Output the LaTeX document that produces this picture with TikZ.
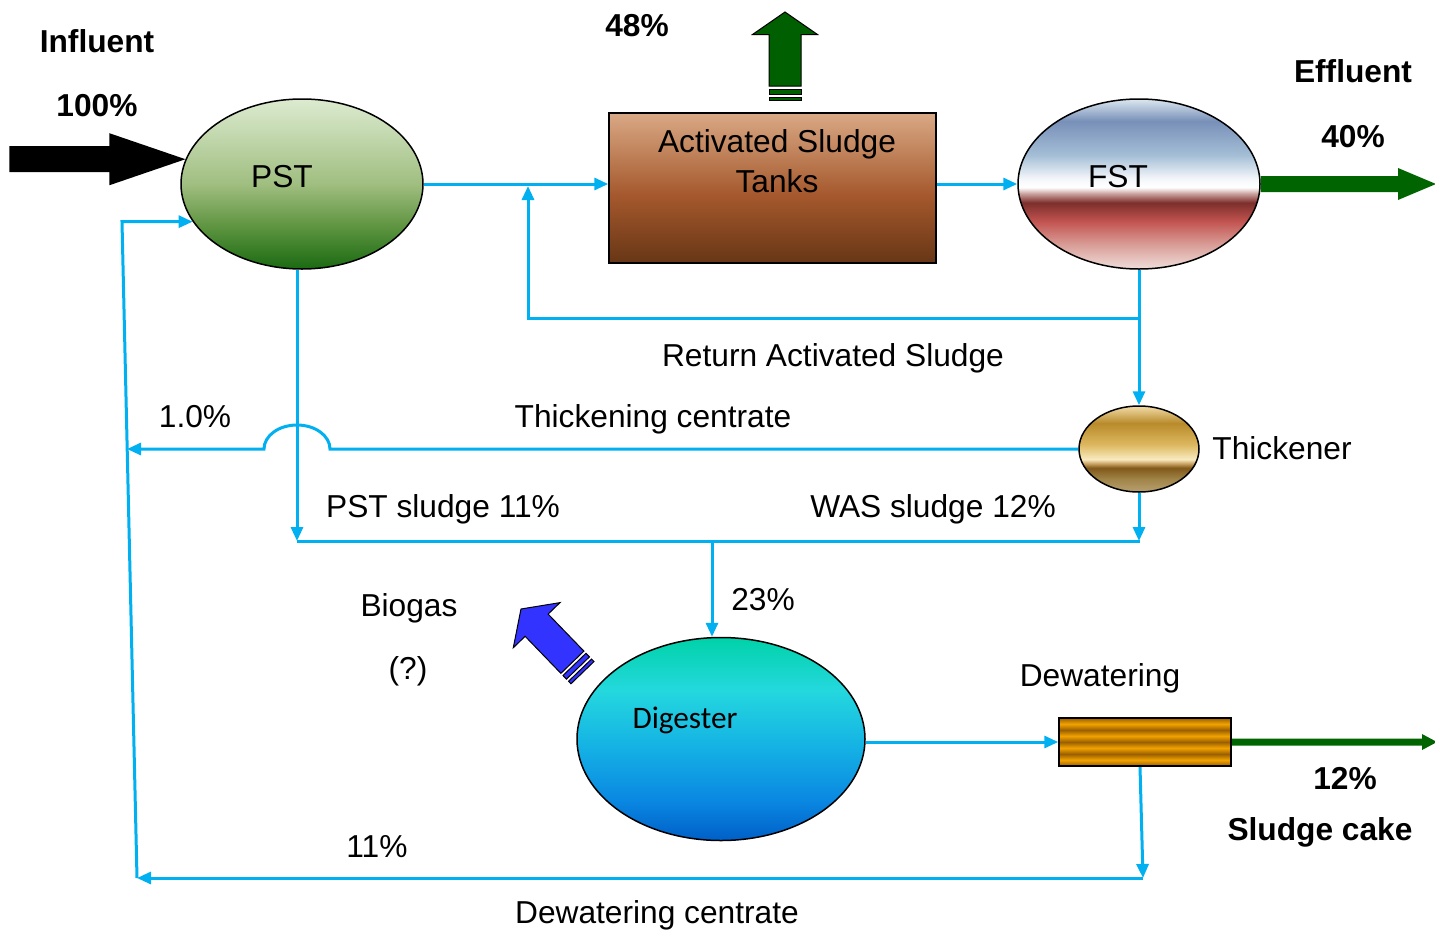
\documentclass[tikz,border=0pt]{standalone}
\usepackage{fontspec}
\setmainfont{Liberation Sans}
\newfontfamily\calib{Carlito}
\usetikzlibrary{shapes.geometric,arrows.meta,calc}
\definecolor{flowblue}{HTML}{00B0F0}
\definecolor{effgreen}{HTML}{006400}
\definecolor{arrgreen}{HTML}{005F00}
\definecolor{bioblue}{HTML}{3333FF}
% PST
\definecolor{pstA}{HTML}{DCEBD0}\definecolor{pstB}{HTML}{A0BE80}\definecolor{pstC}{HTML}{5E9440}\definecolor{pstD}{HTML}{1A6A12}
\pgfdeclareverticalshading{pstsh}{100bp}{color(0bp)=(pstD); color(25bp)=(pstD); color(37.5bp)=(pstC); color(50bp)=(pstB); color(75bp)=(pstA); color(100bp)=(pstA)}
% AST
\definecolor{astA}{HTML}{D9A985}\definecolor{astB}{HTML}{A5582C}\definecolor{astC}{HTML}{673616}
\pgfdeclareverticalshading{astsh}{100bp}{color(0bp)=(astC); color(25bp)=(astC); color(47.5bp)=(astB); color(75bp)=(astA); color(100bp)=(astA)}
% FST
\definecolor{fsA}{HTML}{DCE8F0}\definecolor{fsB}{HTML}{7890B8}\definecolor{fsC}{HTML}{A4BED6}\definecolor{fsD}{HTML}{F4F7FA}\definecolor{fsE}{HTML}{FFFFFF}
\definecolor{fsF}{HTML}{C49894}\definecolor{fsG}{HTML}{7C2E2C}\definecolor{fsH}{HTML}{C25450}\definecolor{fsI}{HTML}{D89A94}\definecolor{fsJ}{HTML}{F0DEDA}
\pgfdeclareverticalshading{fstsh}{100bp}{color(0bp)=(fsJ); color(25bp)=(fsJ); color(32.5bp)=(fsI); color(39bp)=(fsH); color(44.5bp)=(fsG); color(47bp)=(fsF); color(49bp)=(fsE); color(51.5bp)=(fsD); color(58.5bp)=(fsC); color(68.5bp)=(fsB); color(75bp)=(fsA); color(100bp)=(fsA)}
% Thickener
\definecolor{thA}{HTML}{F2DCA8}\definecolor{thB}{HTML}{B88A2A}\definecolor{thC}{HTML}{DDB860}\definecolor{thD}{HTML}{F8EBC0}
\definecolor{thE}{HTML}{C8A060}\definecolor{thF}{HTML}{80581A}\definecolor{thG}{HTML}{A08448}\definecolor{thH}{HTML}{B8A070}
\pgfdeclareverticalshading{thksh}{100bp}{color(0bp)=(thH); color(25bp)=(thH); color(32.5bp)=(thG); color(39bp)=(thF); color(41.5bp)=(thE); color(44bp)=(thD); color(52.5bp)=(thC); color(65bp)=(thB); color(75bp)=(thA); color(100bp)=(thA)}
% Digester
\definecolor{dgA}{HTML}{00D2A8}\definecolor{dgB}{HTML}{24D8DE}\definecolor{dgC}{HTML}{14B0E4}\definecolor{dgD}{HTML}{0A88E2}\definecolor{dgE}{HTML}{0060C8}
\pgfdeclareverticalshading{digsh}{100bp}{color(0bp)=(dgE); color(25bp)=(dgE); color(35bp)=(dgD); color(47.5bp)=(dgC); color(62bp)=(dgB); color(75bp)=(dgA); color(100bp)=(dgA)}
% Dewatering stripes
\definecolor{dwA}{HTML}{F2A200}\definecolor{dwB}{HTML}{9A6000}
\pgfdeclareverticalshading{dewsh}{100bp}{color(0bp)=(dwB); color(25bp)=(dwB); color(31.25bp)=(dwA); color(37.5bp)=(dwB); color(43.75bp)=(dwA); color(50bp)=(dwB); color(56.25bp)=(dwA); color(62.5bp)=(dwB); color(68.75bp)=(dwA); color(75bp)=(dwB); color(100bp)=(dwB)}
\pgfdeclarelayer{bg}
\pgfsetlayers{bg,main}
\tikzset{
  flow/.style={draw=flowblue, line width=3pt, -{Triangle[length=14pt,width=12pt]}},
  flowline/.style={draw=flowblue, line width=3pt},
  tank/.style={draw=black, line width=1.5pt, inner sep=0pt},
  lbl/.style={inner sep=0pt, text=black},
  blbl/.style={inner sep=0pt, text=black, font=\fontsize{31.7pt}{38pt}\selectfont\bfseries},
  blockarr/.style={draw=black, line width=1pt, line join=miter}
}
\begin{document}
\begin{tikzpicture}[x=1pt,y=-1pt, font=\fontsize{31.7pt}{38pt}\selectfont]
\useasboundingbox (0,0) rectangle (1435,932);
% units
\node[tank, ellipse, minimum width=242pt, minimum height=170pt, shade, shading=pstsh] (pst) at (302,184) {};
\node[tank, rectangle, minimum width=327pt, minimum height=150pt, shade, shading=astsh] (ast) at (772.5,188) {};
\node[tank, ellipse, minimum width=242pt, minimum height=170pt, shade, shading=fstsh] (fst) at (1139,184) {};
\node[tank, ellipse, minimum width=120pt, minimum height=86pt, shade, shading=thksh] (thk) at (1139,449) {};
\node[tank, ellipse, minimum width=288pt, minimum height=203pt, shade, shading=digsh] (dig) at (721,739) {};
\node[tank, rectangle, minimum width=172pt, minimum height=48pt, shade, shading=dewsh] (dew) at (1145,742) {};

\begin{pgfonlayer}{bg}
\fill[white] (0,0) rectangle (1435,932);
% influent
\coordinate (inTip) at (pst.168);
\fill[black] (inTip) -- ++(-76,-26) -- ++(0,13) -- ++(-100,0) -- ++(0,26) -- ++(100,0) -- ++(0,13) -- cycle;
% main line
\draw[flow] (pst.east) -- (ast.west |- pst.east);
\draw[flow] (ast.east |- fst.west) -- (fst.west);
% return activated sludge
\coordinate (rasC) at (fst.south |- 0,318);
\coordinate (rasIn) at (528,186);
\draw[flow] (fst.south) -- (rasC) -| (rasIn);
\draw[flow] (rasC) -- (thk.north);
% thickening centrate with hop
\coordinate (hopR) at (thk.west -| 330,0);
\coordinate (tcEnd) at (thk.west -| 127,0);
\draw[flow] (thk.west) -- (hopR) arc[start angle=0, end angle=180, x radius=33pt, y radius=24pt] -- (tcEnd);
% sludge lines
\coordinate (pstDown) at (pst.south -| 297,0);
\coordinate (jL) at (297,541);
\coordinate (jR) at (1140,541);
\coordinate (jM) at (712,541);
\draw[flow] (pstDown) -- (jL);
\draw[flow] (thk.south) -- (thk.south |- jR);
\draw[flowline] (jL) -- (jR);
\draw[flow] (jM) -- (dig.north -| jM);
\draw[flow] (dig.east |- dew.west) -- (dew.west);
% effluent
\coordinate (effEnd) at (1436,184);
\fill[effgreen] ($(fst.east)+(0,-8)$) -- ($(effEnd)+(-38,-8)$) -- ($(effEnd)+(-38,-16)$) -- (effEnd) -- ($(effEnd)+(-38,16)$) -- ($(effEnd)+(-38,8)$) -- ($(fst.east)+(0,8)$) -- cycle;
% sludge cake
\coordinate (cakeEnd) at (1437,742);
\fill[effgreen] ($(dew.east)+(0,-3.5)$) -- ($(cakeEnd)+(-15,-3.5)$) -- ($(cakeEnd)+(-15,-8)$) -- (cakeEnd) -- ($(cakeEnd)+(-15,8)$) -- ($(cakeEnd)+(-15,3.5)$) -- ($(dew.east)+(0,3.5)$) -- cycle;
% dewatering centrate
\coordinate (dcR) at (1143,878);
\coordinate (dcL) at (137,878);
\draw[flow] (dew.south -| 1140,0) -- (dcR);
\draw[flow] (dcR) -- (dcL);
\coordinate (retTop) at (pst.199 -| 122,0);
\draw[flow] (dcL) -- (retTop) -- (pst.199);
\end{pgfonlayer}

% 48% arrow
\begin{scope}[shift={(785,12)}]
\filldraw[blockarr, fill=arrgreen] (0,0) -- (32.5,22.5) -- (16,22.5) -- (16,74) -- (-16,74) -- (-16,22.5) -- (-32.5,22.5) -- cycle;
\filldraw[blockarr, fill=arrgreen] (-16,77) rectangle (16,82);
\filldraw[blockarr, fill=arrgreen] (-16,85) rectangle (16,88.5);
\end{scope}
% biogas arrow
\begin{scope}[shift={(521,609)}, rotate=44]
\filldraw[blockarr, fill=bioblue] (0,0) -- (32.5,22.5) -- (16,22.5) -- (16,74) -- (-16,74) -- (-16,22.5) -- (-32.5,22.5) -- cycle;
\filldraw[blockarr, fill=bioblue] (-16,77) rectangle (16,82);
\filldraw[blockarr, fill=bioblue] (-16,85) rectangle (16,88.5);
\end{scope}

% labels
\node[blbl] (lInf) at (97,41) {Influent};
\node[blbl] (lInfP) at (97,106) {100\%};
\node[blbl] (l48) at (637,26) {48\%};
\node[blbl] (lEff) at (1353,71) {Effluent};
\node[blbl] (lEffP) at (1353,137) {40\%};
\node[lbl] (tPST) at (282,177) {PST};
\node[lbl] (tAST1) at (777,144) {Activated Sludge};
\node[lbl] (tAST2) at (777,181) {Tanks};
\node[lbl] (tFST) at (1118,177) {FST};
\node[lbl] (lRAS) at (833,358) {Return Activated Sludge};
\node[lbl] (lTC) at (653,419) {Thickening centrate};
\node[lbl] (l10) at (195,417) {1.0\%};
\node[lbl] (tThk) at (1282,448) {Thickener};
\node[lbl] (lPSTs) at (443,509) {PST sludge 11\%};
\node[lbl] (lWAS) at (933,509) {WAS sludge 12\%};
\node[lbl] (l23) at (763,600) {23\%};
\node[lbl] (lBio) at (409,608) {Biogas};
\node[lbl] (lQ) at (408,671) {(?)};
\node[lbl, font={\calib\fontsize{31.3pt}{38pt}\selectfont}] (tDig) at (685,720) {Digester};
\node[lbl] (lDew) at (1100,678) {Dewatering};
\node[blbl] (l12) at (1345,779) {12\%};
\node[blbl] (lCake) at (1320,832) {Sludge cake};
\node[lbl] (l11) at (377,847) {11\%};
\node[lbl] (lDC) at (657,915) {Dewatering centrate};
\end{tikzpicture}
\end{document}
